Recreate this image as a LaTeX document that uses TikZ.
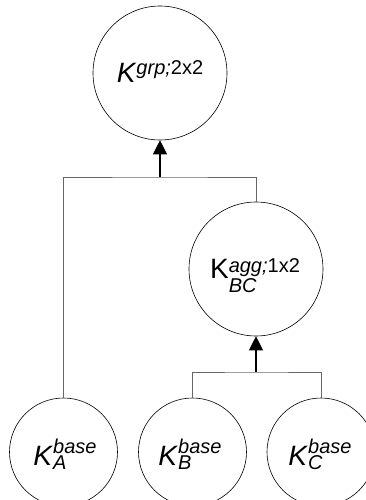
\documentclass[tikz,border=0pt]{standalone}
\usepackage{fontspec}
\setmainfont{Liberation Sans}
\usetikzlibrary{arrows.meta,calc}
\newsavebox\klsup
\newsavebox\klsub
\newlength\klw
\newcommand{\Kl}[5]{%
  {\fontsize{28}{28}\selectfont #1}%
  \sbox\klsup{\fontsize{20}{20}\selectfont #2}%
  \sbox\klsub{\fontsize{20}{20}\selectfont #3}%
  \setlength\klw{\wd\klsup}%
  \ifdim\wd\klsub>\klw\setlength\klw{\wd\klsub}\fi
  \rlap{\raisebox{#4}{\usebox\klsup}}\rlap{\raisebox{-#5}{\usebox\klsub}}\hspace*{\klw}}
\tikzset{
  bigc/.style={circle, draw=black, line width=0.6pt, inner sep=0pt, minimum size=134pt},
  smallc/.style={circle, draw=black, line width=0.6pt, inner sep=0pt, minimum size=108pt},
  lbl/.style={anchor=base, inner sep=0pt},
  conn/.style={draw=black!60, line width=0.8pt},
  arr/.style={draw=black, line width=1.1pt, -{Triangle[width=14pt,length=14pt]}}
}
\begin{document}
\begin{tikzpicture}[x=1pt,y=-1pt]
\useasboundingbox (0,0) rectangle (365,500);
\node[bigc] (top) at (160,73) {};
\node[bigc] (bc) at (256,269) {};
\node[smallc] (a) at (63.5,452) {};
\node[smallc] (b) at (192.5,452) {};
\node[smallc] (c) at (321,452) {};
\node[lbl] (ltop) at (160,83) {\Kl{\textit{K}}{\textit{grp;}2x2}{}{8pt}{0pt}};
\node[lbl] (lbc) at (255,278) {\Kl{K}{\textit{agg;}1x2}{\textit{BC}}{6pt}{14pt}};
\node[lbl] (la) at (65,465) {\Kl{\textit{K}}{\textit{base}}{\textit{A}}{12pt}{4pt}};
\node[lbl] (lb) at (190,465) {\Kl{\textit{K}}{\textit{base}}{\textit{B}}{12pt}{4pt}};
\node[lbl] (lc) at (320,465) {\Kl{\textit{K}}{\textit{base}}{\textit{C}}{12pt}{4pt}};
\coordinate (j1) at (160,177);
\coordinate (j2) at (256,372);
\draw[conn] (a.north) |- (j1) -| (bc.north);
\draw[arr] (j1) -- (top.south);
\draw[conn] (b.north) |- (j2) -| (c.north);
\draw[arr] (j2) -- (bc.south);
\end{tikzpicture}
\end{document}
